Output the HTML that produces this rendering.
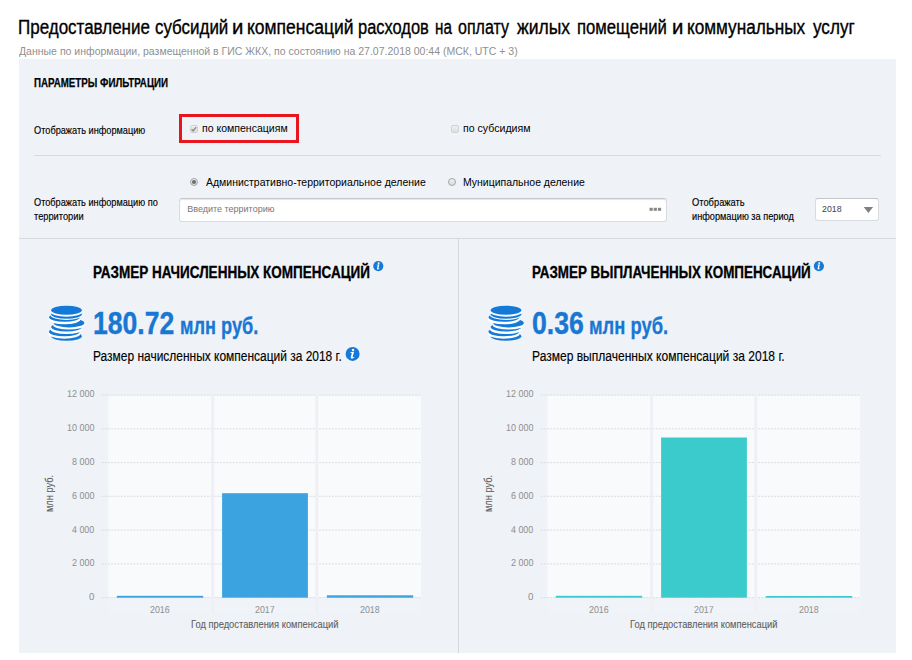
<!DOCTYPE html>
<html><head><meta charset="utf-8"><title>page</title>
<style>
html,body{margin:0;padding:0;background:#fff;}
body{width:912px;height:660px;position:relative;overflow:hidden;font-family:"Liberation Sans",sans-serif;}
.t{position:absolute;white-space:nowrap;line-height:normal;display:block;}
.panel{position:absolute;left:19px;top:59px;width:877px;height:593.5px;background:#eff2f7;}
.hr{position:absolute;height:1px;background:#d8d9da;}
.red{position:absolute;left:179px;top:114px;width:114px;height:23px;border:3px solid #e8141e;}
.cb{position:absolute;width:6px;height:6px;border:1px solid #d2d2d2;border-radius:2px;background:linear-gradient(#f0f0f0,#dedede);}
.rd{position:absolute;width:6.5px;height:6.5px;border:1px solid #a4a4a4;border-radius:50%;background:linear-gradient(#f0f0f0,#dcdcdc);}
.inp{position:absolute;left:179px;top:198px;width:485.5px;height:22px;border:1px solid #d9dbdf;border-top-color:#c6c8cc;border-radius:3px;background:#fff;box-shadow:inset 0 1px 1px rgba(0,0,0,.10);}
.sel{position:absolute;left:815.2px;top:198px;width:61.8px;height:21px;border:1px solid #d9dbdf;border-top-color:#c2c4c7;border-radius:3px;background:#fff;}
svg{position:absolute;left:0;top:0;}
</style></head><body>
<div class="panel"></div>
<div class="hr" style="left:34px;top:155px;width:847px;"></div>
<div class="hr" style="left:19px;top:238px;width:877px;"></div>
<div class="hr" style="left:458px;top:238px;width:1px;height:414.5px;"></div>
<div class="red"></div>
<div class="cb" style="left:189.8px;top:125px;"></div>
<div class="cb" style="left:451px;top:125px;"></div>
<div class="rd" style="left:189.8px;top:177.8px;"></div>
<div class="rd" style="left:447.8px;top:177.8px;"></div>
<div class="inp"></div>
<div class="sel"></div>
<svg width="912" height="660" viewBox="0 0 912 660">
<path d="M191.6 129.2l1.6 1.7l2.9-3.8" fill="none" stroke="#8c8c8c" stroke-width="1.5"/>
<circle cx="194" cy="182" r="2.1" fill="#6e6e6e"/>
<g fill="#878787"><rect x="649.5" y="207.8" width="3.2" height="3"/><rect x="653.7" y="207.8" width="3.2" height="3"/><rect x="657.9" y="207.8" width="3.2" height="3"/></g>
<path d="M863.7 206.9h9.4l-4.7 6z" fill="#808080"/>
<ellipse cx="66.5" cy="336.2" rx="15.3" ry="4.5" fill="#1479d7"/>
<ellipse cx="64.3" cy="334.0" rx="15.9" ry="4.7" fill="#fdfeff"/>
<ellipse cx="64.3" cy="331.7" rx="15.3" ry="4.5" fill="#1479d7"/>
<ellipse cx="66.5" cy="329.4" rx="15.9" ry="4.7" fill="#fdfeff"/>
<ellipse cx="66.5" cy="327.1" rx="15.3" ry="4.5" fill="#1479d7"/>
<ellipse cx="69.0" cy="324.9" rx="15.9" ry="4.7" fill="#fdfeff"/>
<ellipse cx="69.0" cy="322.9" rx="15.3" ry="4.5" fill="#1479d7"/>
<ellipse cx="64.5" cy="319.6" rx="15.9" ry="4.7" fill="#fdfeff"/>
<ellipse cx="64.5" cy="317.3" rx="15.3" ry="4.5" fill="#1479d7"/>
<ellipse cx="66.5" cy="315.3" rx="15.9" ry="4.7" fill="#fdfeff"/>
<ellipse cx="66.5" cy="314.2" rx="15.3" ry="4.5" fill="#1479d7"/>
<ellipse cx="66.5" cy="312.0" rx="15.9" ry="4.7" fill="#fdfeff"/>
<ellipse cx="66.5" cy="310.2" rx="15.3" ry="4.5" fill="#1479d7"/><ellipse cx="506.0" cy="336.2" rx="15.3" ry="4.5" fill="#1479d7"/>
<ellipse cx="503.8" cy="334.0" rx="15.9" ry="4.7" fill="#fdfeff"/>
<ellipse cx="503.8" cy="331.7" rx="15.3" ry="4.5" fill="#1479d7"/>
<ellipse cx="506.0" cy="329.4" rx="15.9" ry="4.7" fill="#fdfeff"/>
<ellipse cx="506.0" cy="327.1" rx="15.3" ry="4.5" fill="#1479d7"/>
<ellipse cx="508.5" cy="324.9" rx="15.9" ry="4.7" fill="#fdfeff"/>
<ellipse cx="508.5" cy="322.9" rx="15.3" ry="4.5" fill="#1479d7"/>
<ellipse cx="504.0" cy="319.6" rx="15.9" ry="4.7" fill="#fdfeff"/>
<ellipse cx="504.0" cy="317.3" rx="15.3" ry="4.5" fill="#1479d7"/>
<ellipse cx="506.0" cy="315.3" rx="15.9" ry="4.7" fill="#fdfeff"/>
<ellipse cx="506.0" cy="314.2" rx="15.3" ry="4.5" fill="#1479d7"/>
<ellipse cx="506.0" cy="312.0" rx="15.9" ry="4.7" fill="#fdfeff"/>
<ellipse cx="506.0" cy="310.2" rx="15.3" ry="4.5" fill="#1479d7"/><g transform="translate(378.3 266.1) scale(0.729)"><circle r="7" fill="#1479d7"/><g transform="scale(1.12)"><path d="M0.4 -4.6 a1.1 1.1 0 1 0 0.01 0z M-1.9 -1.6 L1.3 -2 L0.1 2.6 Q0 3.2 0.6 3 L1.5 2.5 L1.7 3 Q0.2 4.4 -1 4.2 Q-1.9 4 -1.6 2.8 L-0.7 -0.9 L-2 -1.1z" fill="#fff"/></g></g><g transform="translate(352.6 353.9) scale(1.000)"><circle r="7" fill="#1479d7"/><g transform="scale(1.12)"><path d="M0.4 -4.6 a1.1 1.1 0 1 0 0.01 0z M-1.9 -1.6 L1.3 -2 L0.1 2.6 Q0 3.2 0.6 3 L1.5 2.5 L1.7 3 Q0.2 4.4 -1 4.2 Q-1.9 4 -1.6 2.8 L-0.7 -0.9 L-2 -1.1z" fill="#fff"/></g></g><g transform="translate(818.9 266.1) scale(0.729)"><circle r="7" fill="#1479d7"/><g transform="scale(1.12)"><path d="M0.4 -4.6 a1.1 1.1 0 1 0 0.01 0z M-1.9 -1.6 L1.3 -2 L0.1 2.6 Q0 3.2 0.6 3 L1.5 2.5 L1.7 3 Q0.2 4.4 -1 4.2 Q-1.9 4 -1.6 2.8 L-0.7 -0.9 L-2 -1.1z" fill="#fff"/></g></g><rect x="108.5" y="395.5" width="102.8" height="202.2" fill="#f9fafc"/>
<rect x="108.5" y="597.7" width="102.8" height="15.5" fill="#f0f3f7"/>
<rect x="214.1" y="395.5" width="101.4" height="202.2" fill="#f9fafc"/>
<rect x="214.1" y="597.7" width="101.4" height="15.5" fill="#f0f3f7"/>
<rect x="318.2" y="395.5" width="102.8" height="202.2" fill="#f9fafc"/>
<rect x="318.2" y="597.7" width="102.8" height="15.5" fill="#f0f3f7"/>
<line x1="101.5" y1="395.0" x2="421.0" y2="395.0" stroke="#d9dce1" stroke-width="1" stroke-dasharray="2 1.2"/>
<line x1="101.5" y1="428.8" x2="421.0" y2="428.8" stroke="#d9dce1" stroke-width="1" stroke-dasharray="2 1.2"/>
<line x1="101.5" y1="462.6" x2="421.0" y2="462.6" stroke="#d9dce1" stroke-width="1" stroke-dasharray="2 1.2"/>
<line x1="101.5" y1="496.3" x2="421.0" y2="496.3" stroke="#d9dce1" stroke-width="1" stroke-dasharray="2 1.2"/>
<line x1="101.5" y1="530.1" x2="421.0" y2="530.1" stroke="#d9dce1" stroke-width="1" stroke-dasharray="2 1.2"/>
<line x1="101.5" y1="563.9" x2="421.0" y2="563.9" stroke="#d9dce1" stroke-width="1" stroke-dasharray="2 1.2"/>
<line x1="101.5" y1="597.7" x2="421.0" y2="597.7" stroke="#d9dce1" stroke-width="1" stroke-dasharray="2 1.2"/>
<rect x="211.3" y="394.0" width="2.8" height="218.7" fill="#eef0f6"/>
<rect x="315.4" y="394.0" width="2.8" height="218.7" fill="#eef0f6"/>
<rect x="116.8" y="595.8" width="86.4" height="1.9" fill="#3ba3e0"/>
<rect x="222.1" y="493.2" width="85.8" height="104.5" fill="#3ba3e0"/>
<rect x="326.8" y="595.3" width="86.4" height="2.4" fill="#3ba3e0"/><rect x="547.5" y="395.5" width="102.8" height="202.2" fill="#f9fafc"/>
<rect x="547.5" y="597.7" width="102.8" height="15.5" fill="#f0f3f7"/>
<rect x="653.1" y="395.5" width="101.4" height="202.2" fill="#f9fafc"/>
<rect x="653.1" y="597.7" width="101.4" height="15.5" fill="#f0f3f7"/>
<rect x="757.2" y="395.5" width="102.8" height="202.2" fill="#f9fafc"/>
<rect x="757.2" y="597.7" width="102.8" height="15.5" fill="#f0f3f7"/>
<line x1="540.5" y1="395.0" x2="860.0" y2="395.0" stroke="#d9dce1" stroke-width="1" stroke-dasharray="2 1.2"/>
<line x1="540.5" y1="428.8" x2="860.0" y2="428.8" stroke="#d9dce1" stroke-width="1" stroke-dasharray="2 1.2"/>
<line x1="540.5" y1="462.6" x2="860.0" y2="462.6" stroke="#d9dce1" stroke-width="1" stroke-dasharray="2 1.2"/>
<line x1="540.5" y1="496.3" x2="860.0" y2="496.3" stroke="#d9dce1" stroke-width="1" stroke-dasharray="2 1.2"/>
<line x1="540.5" y1="530.1" x2="860.0" y2="530.1" stroke="#d9dce1" stroke-width="1" stroke-dasharray="2 1.2"/>
<line x1="540.5" y1="563.9" x2="860.0" y2="563.9" stroke="#d9dce1" stroke-width="1" stroke-dasharray="2 1.2"/>
<line x1="540.5" y1="597.7" x2="860.0" y2="597.7" stroke="#d9dce1" stroke-width="1" stroke-dasharray="2 1.2"/>
<rect x="650.3" y="394.0" width="2.8" height="218.7" fill="#eef0f6"/>
<rect x="754.4" y="394.0" width="2.8" height="218.7" fill="#eef0f6"/>
<rect x="555.8" y="595.8" width="86.4" height="1.9" fill="#3ccbcd"/>
<rect x="661.1" y="437.5" width="85.8" height="160.2" fill="#3ccbcd"/>
<rect x="765.8" y="596.0" width="86.4" height="1.7" fill="#3ccbcd"/>
</svg>
<span class="t" id="t0" style="left:17.70px;top:15.94px;font-size:19.6px;font-weight:400;color:#000;-webkit-text-stroke:0.35px #000;transform:scaleX(0.8667);transform-origin:0 50%;">Предоставление</span>
<span class="t" id="t1" style="left:154.65px;top:15.94px;font-size:19.6px;font-weight:400;color:#000;-webkit-text-stroke:0.35px #000;transform:scaleX(0.8639);transform-origin:0 50%;">субсидий</span>
<span class="t" id="t2" style="left:232.31px;top:15.94px;font-size:19.6px;font-weight:400;color:#000;-webkit-text-stroke:0.35px #000;transform:scaleX(1.0353);transform-origin:0 50%;">и</span>
<span class="t" id="t3" style="left:246.88px;top:15.94px;font-size:19.6px;font-weight:400;color:#000;-webkit-text-stroke:0.35px #000;transform:scaleX(0.8923);transform-origin:0 50%;">компенсаций</span>
<span class="t" id="t4" style="left:357.76px;top:15.94px;font-size:19.6px;font-weight:400;color:#000;-webkit-text-stroke:0.35px #000;transform:scaleX(0.8387);transform-origin:0 50%;">расходов</span>
<span class="t" id="t5" style="left:435.33px;top:15.94px;font-size:19.6px;font-weight:400;color:#000;-webkit-text-stroke:0.35px #000;transform:scaleX(0.7759);transform-origin:0 50%;">на</span>
<span class="t" id="t6" style="left:457.99px;top:15.94px;font-size:19.6px;font-weight:400;color:#000;-webkit-text-stroke:0.35px #000;transform:scaleX(0.8162);transform-origin:0 50%;">оплату</span>
<span class="t" id="t7" style="left:517.22px;top:15.94px;font-size:19.6px;font-weight:400;color:#000;-webkit-text-stroke:0.35px #000;transform:scaleX(0.8937);transform-origin:0 50%;">жилых</span>
<span class="t" id="t8" style="left:576.53px;top:15.94px;font-size:19.6px;font-weight:400;color:#000;-webkit-text-stroke:0.35px #000;transform:scaleX(0.8524);transform-origin:0 50%;">помещений</span>
<span class="t" id="t9" style="left:671.81px;top:15.94px;font-size:19.6px;font-weight:400;color:#000;-webkit-text-stroke:0.35px #000;transform:scaleX(1.0353);transform-origin:0 50%;">и</span>
<span class="t" id="t10" style="left:686.50px;top:15.94px;font-size:19.6px;font-weight:400;color:#000;-webkit-text-stroke:0.35px #000;transform:scaleX(0.8772);transform-origin:0 50%;">коммунальных</span>
<span class="t" id="t11" style="left:812.52px;top:15.94px;font-size:19.6px;font-weight:400;color:#000;-webkit-text-stroke:0.35px #000;transform:scaleX(0.8733);transform-origin:0 50%;">услуг</span>
<span class="t" id="t12" style="left:19.00px;top:44.86px;font-size:11px;font-weight:400;color:#8f8f8f;transform:scaleX(0.9554);transform-origin:0 50%;">Данные по информации, размещенной в ГИС ЖКХ, по состоянию на 27.07.2018 00:44 (МСК, UTC + 3)</span>
<span class="t" id="t13" style="left:34.04px;top:75.02px;font-size:13px;font-weight:700;color:#000;-webkit-text-stroke:0.25px #000;transform:scaleX(0.7498);transform-origin:0 50%;">ПАРАМЕТРЫ ФИЛЬТРАЦИИ</span>
<span class="t" id="t14" style="left:33.59px;top:123.99px;font-size:11.3px;font-weight:400;color:#000;-webkit-text-stroke:0.15px #000;transform:scaleX(0.8140);transform-origin:0 50%;">Отображать информацию</span>
<span class="t" id="t15" style="left:202.28px;top:121.86px;font-size:11px;font-weight:400;color:#000;transform:scaleX(0.9568);transform-origin:0 50%;">по компенсациям</span>
<span class="t" id="t16" style="left:462.58px;top:121.86px;font-size:11px;font-weight:400;color:#000;transform:scaleX(0.9629);transform-origin:0 50%;">по субсидиям</span>
<span class="t" id="t17" style="left:205.75px;top:175.86px;font-size:11px;font-weight:400;color:#000;transform:scaleX(0.9533);transform-origin:0 50%;">Административно-территориальное деление</span>
<span class="t" id="t18" style="left:463.05px;top:175.86px;font-size:11px;font-weight:400;color:#000;transform:scaleX(0.9510);transform-origin:0 50%;">Муниципальное деление</span>
<span class="t" id="t19" style="left:33.59px;top:195.59px;font-size:11.3px;font-weight:400;color:#000;-webkit-text-stroke:0.15px #000;transform:scaleX(0.8132);transform-origin:0 50%;">Отображать информацию по</span>
<span class="t" id="t20" style="left:34.00px;top:209.59px;font-size:11.3px;font-weight:400;color:#000;-webkit-text-stroke:0.15px #000;transform:scaleX(0.8201);transform-origin:0 50%;">территории</span>
<span class="t" id="t21" style="left:187.25px;top:203.71px;font-size:9px;font-weight:400;color:#777;">Введите территорию</span>
<span class="t" id="t22" style="left:691.59px;top:195.59px;font-size:11.3px;font-weight:400;color:#000;-webkit-text-stroke:0.15px #000;transform:scaleX(0.8254);transform-origin:0 50%;">Отображать</span>
<span class="t" id="t23" style="left:692.19px;top:209.89px;font-size:11.3px;font-weight:400;color:#000;-webkit-text-stroke:0.15px #000;transform:scaleX(0.8145);transform-origin:0 50%;">информацию за период</span>
<span class="t" id="t24" style="left:821.55px;top:202.88px;font-size:9.9px;font-weight:400;color:#444;transform:scaleX(0.8905);transform-origin:0 50%;">2018</span>
<span class="t" id="t25" style="left:93.16px;top:264.26px;font-size:16px;font-weight:700;color:#000;-webkit-text-stroke:0.3px #000;transform:scaleX(0.8441);transform-origin:0 50%;">РАЗМЕР НАЧИСЛЕННЫХ КОМПЕНСАЦИЙ</span>
<span class="t" id="t26" style="left:93.45px;top:348.10px;font-size:14px;font-weight:400;color:#000;-webkit-text-stroke:0.15px #000;transform:scaleX(0.8543);transform-origin:0 50%;">Размер начисленных компенсаций за 2018 г.</span>
<span class="t" id="t27" style="left:66.93px;top:387.78px;font-size:10px;font-weight:400;color:#8e8e8e;transform:rotate(0.03deg) scaleX(0.8949);transform-origin:0 50%;">12 000</span>
<span class="t" id="t28" style="left:66.93px;top:421.78px;font-size:10px;font-weight:400;color:#8e8e8e;transform:rotate(0.03deg) scaleX(0.8949);transform-origin:0 50%;">10 000</span>
<span class="t" id="t29" style="left:71.85px;top:455.78px;font-size:10px;font-weight:400;color:#8e8e8e;transform:rotate(0.03deg) scaleX(0.8948);transform-origin:0 50%;">8 000</span>
<span class="t" id="t30" style="left:71.85px;top:489.78px;font-size:10px;font-weight:400;color:#8e8e8e;transform:rotate(0.03deg) scaleX(0.8948);transform-origin:0 50%;">6 000</span>
<span class="t" id="t31" style="left:72.08px;top:523.79px;font-size:10px;font-weight:400;color:#8e8e8e;transform:rotate(0.03deg) scaleX(0.8857);transform-origin:0 50%;">4 000</span>
<span class="t" id="t32" style="left:71.85px;top:556.79px;font-size:10px;font-weight:400;color:#8e8e8e;transform:rotate(0.03deg) scaleX(0.8948);transform-origin:0 50%;">2 000</span>
<span class="t" id="t33" style="left:88.92px;top:590.79px;font-size:10px;font-weight:400;color:#8e8e8e;transform:rotate(0.03deg) scaleX(0.9684);transform-origin:0 50%;">0</span>
<span class="t" id="t34" style="left:150.16px;top:603.79px;font-size:10px;font-weight:400;color:#8e8e8e;transform:rotate(0.03deg) scaleX(0.8847);transform-origin:0 50%;">2016</span>
<span class="t" id="t35" style="left:255.06px;top:603.79px;font-size:10px;font-weight:400;color:#8e8e8e;transform:rotate(0.03deg) scaleX(0.8847);transform-origin:0 50%;">2017</span>
<span class="t" id="t36" style="left:360.06px;top:603.79px;font-size:10px;font-weight:400;color:#8e8e8e;transform:rotate(0.03deg) scaleX(0.8847);transform-origin:0 50%;">2018</span>
<span class="t" id="t37" style="left:190.59px;top:618.40px;font-size:11.5px;font-weight:400;color:#5e5e5e;-webkit-text-stroke:0.1px #5e5e5e;transform:scaleX(0.8111);transform-origin:0 50%;">Год предоставления компенсаций</span>
<span class="t" id="t38" style="left:42.50px;top:512.20px;font-size:11.5px;font-weight:400;color:#5e5e5e;-webkit-text-stroke:0.1px #5e5e5e;transform-origin:0 0;transform:rotate(-90deg) scaleX(0.8045);">млн руб.</span>
<span class="t" id="t39" style="left:532.16px;top:264.26px;font-size:16px;font-weight:700;color:#000;-webkit-text-stroke:0.3px #000;transform:scaleX(0.8375);transform-origin:0 50%;">РАЗМЕР ВЫПЛАЧЕННЫХ КОМПЕНСАЦИЙ</span>
<span class="t" id="t40" style="left:532.44px;top:348.10px;font-size:14px;font-weight:400;color:#000;-webkit-text-stroke:0.15px #000;transform:scaleX(0.8600);transform-origin:0 50%;">Размер выплаченных компенсаций за 2018 г.</span>
<span class="t" id="t41" style="left:505.93px;top:387.78px;font-size:10px;font-weight:400;color:#8e8e8e;transform:rotate(0.03deg) scaleX(0.8949);transform-origin:0 50%;">12 000</span>
<span class="t" id="t42" style="left:505.93px;top:421.78px;font-size:10px;font-weight:400;color:#8e8e8e;transform:rotate(0.03deg) scaleX(0.8949);transform-origin:0 50%;">10 000</span>
<span class="t" id="t43" style="left:510.85px;top:455.78px;font-size:10px;font-weight:400;color:#8e8e8e;transform:rotate(0.03deg) scaleX(0.8948);transform-origin:0 50%;">8 000</span>
<span class="t" id="t44" style="left:510.85px;top:489.78px;font-size:10px;font-weight:400;color:#8e8e8e;transform:rotate(0.03deg) scaleX(0.8948);transform-origin:0 50%;">6 000</span>
<span class="t" id="t45" style="left:511.08px;top:523.79px;font-size:10px;font-weight:400;color:#8e8e8e;transform:rotate(0.03deg) scaleX(0.8857);transform-origin:0 50%;">4 000</span>
<span class="t" id="t46" style="left:510.85px;top:556.79px;font-size:10px;font-weight:400;color:#8e8e8e;transform:rotate(0.03deg) scaleX(0.8948);transform-origin:0 50%;">2 000</span>
<span class="t" id="t47" style="left:527.92px;top:590.79px;font-size:10px;font-weight:400;color:#8e8e8e;transform:rotate(0.03deg) scaleX(0.9684);transform-origin:0 50%;">0</span>
<span class="t" id="t48" style="left:589.16px;top:603.79px;font-size:10px;font-weight:400;color:#8e8e8e;transform:rotate(0.03deg) scaleX(0.8847);transform-origin:0 50%;">2016</span>
<span class="t" id="t49" style="left:694.06px;top:603.79px;font-size:10px;font-weight:400;color:#8e8e8e;transform:rotate(0.03deg) scaleX(0.8847);transform-origin:0 50%;">2017</span>
<span class="t" id="t50" style="left:799.06px;top:603.79px;font-size:10px;font-weight:400;color:#8e8e8e;transform:rotate(0.03deg) scaleX(0.8847);transform-origin:0 50%;">2018</span>
<span class="t" id="t51" style="left:629.59px;top:618.40px;font-size:11.5px;font-weight:400;color:#5e5e5e;-webkit-text-stroke:0.1px #5e5e5e;transform:scaleX(0.8111);transform-origin:0 50%;">Год предоставления компенсаций</span>
<span class="t" id="t52" style="left:481.50px;top:512.20px;font-size:11.5px;font-weight:400;color:#5e5e5e;-webkit-text-stroke:0.1px #5e5e5e;transform-origin:0 0;transform:rotate(-90deg) scaleX(0.8045);">млн руб.</span>
<span class="t" id="t53" style="left:92.82px;top:306.06px;font-size:31.4px;font-weight:700;color:#1877d3;-webkit-text-stroke:0.4px #1877d3;transform:scaleX(0.8461);transform-origin:0 50%;">180.72</span>
<span class="t" id="t54" style="left:180.21px;top:312.81px;font-size:23px;font-weight:700;color:#1877d3;-webkit-text-stroke:0.3px #1877d3;transform:scaleX(0.7906);transform-origin:0 50%;">млн руб.</span>
<span class="t" id="t55" style="left:532.45px;top:306.06px;font-size:31.4px;font-weight:700;color:#1877d3;-webkit-text-stroke:0.4px #1877d3;transform:scaleX(0.8473);transform-origin:0 50%;">0.36</span>
<span class="t" id="t56" style="left:589.40px;top:312.81px;font-size:23px;font-weight:700;color:#1877d3;-webkit-text-stroke:0.3px #1877d3;transform:scaleX(0.7990);transform-origin:0 50%;">млн руб.</span>
</body></html>
